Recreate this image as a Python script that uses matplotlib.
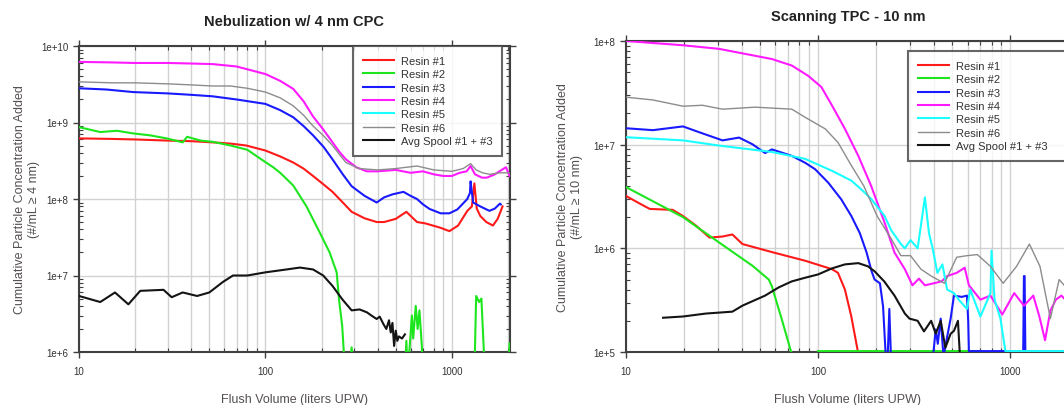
import numpy as np
import matplotlib
matplotlib.use("Agg")
import matplotlib.pyplot as plt
from matplotlib.ticker import LogLocator, NullFormatter, FixedLocator, FixedFormatter

plt.rcParams['font.family'] = ['Liberation Sans', 'DejaVu Sans']

nan = np.nan

# ---------------- left panel: Nebulization w/ 4 nm CPC ----------------
neb_r1_x = [10, 15, 20, 30, 40, 52, 65, 79, 100, 120, 141, 160, 180, 205, 229, 260, 290, 340, 395, 433, 500, 570, 610, 650, 720, 790, 870, 970, 1080, 1210, 1280, 1320, 1360, 1420, 1530, 1660, 1760, 1870]
neb_r1_y = [6.2e8, 6.1e8, 6.0e8, 5.8e8, 5.7e8, 5.5e8, 5.3e8, 5.0e8, 4.3e8, 3.6e8, 3.0e8, 2.5e8, 2.0e8, 1.55e8, 1.24e8, 9.0e7, 6.8e7, 5.6e7, 5.0e7, 5.0e7, 5.5e7, 6.8e7, 5.8e7, 5.0e7, 4.8e7, 4.5e7, 4.2e7, 3.8e7, 4.5e7, 7.0e7, 8.0e7, 1.6e8, 7.5e7, 6.0e7, 5.0e7, 4.5e7, 5.5e7, 8.0e7]

neb_r2_x = [10, 13, 16, 19.5, 24, 29.5, 36, 38, 45, 52, 65, 80, 95, 110, 120, 141, 166, 195, 221, 241, 248, 258, 268, 280, 290, 296, 560, 570, 580, 610, 620, 640, 655, 670, 690, 700, 1320, 1350, 1400, 1440, 1480, 1500, 2000, 2040]
neb_r2_y = [8.7e8, 7.5e8, 7.8e8, 7.2e8, 6.8e8, 6.2e8, 5.5e8, 6.5e8, 5.8e8, 5.6e8, 5.0e8, 4.4e8, 3.3e8, 2.6e8, 2.2e8, 1.5e8, 8.0e7, 3.7e7, 2.0e7, 1.1e7, 4.9e6, 2.2e6, 5e5, 5e5, 1.15e6, 5e5, 5e5, 1.4e6, 5e5, 3.0e6, 1.5e6, 4.0e6, 2.0e6, 3.5e6, 1.2e6, 5e5, 5e5, 5.4e6, 4.5e6, 5.0e6, 1.2e6, 5e5, 5e5, 1.3e6]

neb_r3_x = [10, 14, 19.5, 30, 40, 52, 70, 100, 120, 141, 160, 180, 205, 229, 260, 290, 340, 395, 433, 480, 550, 600, 650, 700, 760, 870, 970, 1070, 1210, 1250, 1260, 1300, 1420, 1590, 1700, 1810, 1830]
neb_r3_y = [2.8e9, 2.7e9, 2.5e9, 2.4e9, 2.3e9, 2.2e9, 2.0e9, 1.75e9, 1.45e9, 1.17e9, 9.0e8, 6.8e8, 4.8e8, 3.3e8, 2.1e8, 1.47e8, 1.1e8, 9.0e7, 1.05e8, 1.15e8, 1.24e8, 1.1e8, 1.0e8, 8.5e7, 7.4e7, 6.5e7, 6.5e7, 7.3e7, 1.0e8, 1.2e8, 1.7e8, 9.0e7, 8.0e7, 7.0e7, 7.5e7, 8.7e7, 8.5e7]

neb_r4_x = [10, 15, 20, 30, 40, 52, 70, 100, 120, 141, 160, 180, 205, 229, 250, 270, 307, 350, 400, 500, 600, 700, 800, 900, 1000, 1100, 1200, 1260, 1330, 1450, 1540, 1700, 1850, 1950, 2040]
neb_r4_y = [6.2e9, 6.1e9, 6.0e9, 6.0e9, 5.9e9, 5.8e9, 5.4e9, 4.3e9, 3.5e9, 2.75e9, 1.9e9, 1.2e9, 8.0e8, 5.5e8, 4.1e8, 3.3e8, 2.6e8, 2.3e8, 2.3e8, 2.4e8, 2.2e8, 2.3e8, 2.1e8, 2.0e8, 2.0e8, 2.2e8, 2.3e8, 2.7e8, 2.1e8, 1.9e8, 1.9e8, 2.1e8, 2.4e8, 2.6e8, 2.0e8]

neb_r6_x = [10, 15, 20, 30, 40, 52, 65, 80, 100, 120, 141, 160, 180, 205, 229, 250, 270, 318, 400, 500, 650, 800, 1000, 1150, 1260, 1350, 1460, 1600, 1800, 2040]
neb_r6_y = [3.4e9, 3.3e9, 3.3e9, 3.2e9, 3.1e9, 3.0e9, 3.0e9, 2.8e9, 2.5e9, 2.1e9, 1.65e9, 1.25e9, 9.0e8, 6.7e8, 5.0e8, 3.8e8, 3.0e8, 2.5e8, 2.4e8, 2.5e8, 2.7e8, 2.4e8, 2.3e8, 2.5e8, 2.9e8, 2.4e8, 2.2e8, 2.1e8, 2.2e8, 2.2e8]

neb_avg_x = [10, 13, 15.6, 18.4, 21.3, 28.4, 31.4, 36, 43, 50, 59, 67, 80, 100, 130, 153, 180, 204, 229, 258, 290, 320, 350, 370, 395, 410, 430, 445, 460, 470, 480, 490, 500, 510, 520, 540, 560]
neb_avg_y = [5.4e6, 4.5e6, 6.0e6, 4.2e6, 6.3e6, 6.5e6, 5.2e6, 6.0e6, 5.4e6, 6.0e6, 8.2e6, 1.0e7, 1.0e7, 1.1e7, 1.2e7, 1.27e7, 1.2e7, 1.0e7, 7.3e6, 4.9e6, 3.5e6, 3.6e6, 3.3e6, 3.0e6, 2.7e6, 2.9e6, 2.3e6, 2.0e6, 2.6e6, 1.8e6, 2.4e6, 1.2e6, 1.9e6, 1.4e6, 1.6e6, 1.5e6, 1.7e6]

# ---------------- right panel: Scanning TPC - 10 nm ----------------
# floor value (1.02e5) = readings that sit on the bottom axis
tpc_r1_x = [10, 11.8, 13.3, 17.5, 19.8, 23.2, 27.2, 31.8, 35.8, 40.4, 57.5, 85.5, 118, 127, 138, 149, 165]
tpc_r1_y = [3.2e6, 2.7e6, 2.4e6, 2.35e6, 2.05e6, 1.65e6, 1.27e6, 1.3e6, 1.36e6, 1.1e6, 9.2e5, 7.6e5, 6.3e5, 5.8e5, 4.0e5, 2.2e5, 8e4]

tpc_r2_x = [10, 19.8, 30.5, 45.5, 55.4, 57.5, 64.8, 75, 80, 100, 690]
tpc_r2_y = [3.9e6, 2.0e6, 1.14e6, 6.8e5, 5.0e5, 4.3e5, 2.05e5, 8e4, nan, 1.02e5, 1.02e5]

tpc_r3_x = [10, 13.8, 19.8, 24, 31.8, 38.8, 45.5, 53, 57.5, 73, 85.5, 96.5, 113, 132, 149, 165, 179, 190, 197, 210, 218, 226, 230, 235, 240, 250, 394, 410, 420, 435, 450, 470, 490, 510, 560, 596, 605, 610, 650, 1170, 1180, 1190, 1200, 1220, 2100]
tpc_r3_y = [1.44e7, 1.38e7, 1.5e7, 1.32e7, 1.1e7, 1.17e7, 1.01e7, 8.3e6, 9.0e6, 7.8e6, 6.7e6, 5.8e6, 4.3e6, 2.97e6, 2.05e6, 1.4e6, 9.1e5, 6.0e5, 5.0e5, 4.6e5, 2.75e5, 8e4, 8e4, 2.6e5, 8e4, 8e4, 8e4, 1.65e5, 1.2e5, 2.1e5, 9e4, 1.4e5, 2.1e5, 3.5e5, 3.4e5, 3.5e5, 2.0e5, 1.02e5, 1.02e5, 1.02e5, 5.4e5, 5.4e5, 1.02e5, 1.02e5, 1.02e5]

tpc_r4_x = [10, 19.8, 30.5, 57.5, 73, 89, 104, 118, 138, 162, 189, 222, 250, 283, 310, 335, 360, 400, 440, 470, 527, 580, 610, 700, 790, 910, 1050, 1180, 1320, 1420, 1520, 1620, 1730, 1850, 2000]
tpc_r4_y = [1.0e8, 9.1e7, 8.4e7, 6.7e7, 5.8e7, 4.6e7, 3.6e7, 2.4e7, 1.42e7, 7.8e6, 4.0e6, 1.77e6, 9.1e5, 6.3e5, 4.4e5, 5.1e5, 4.4e5, 4.6e5, 4.8e5, 5.4e5, 5.8e5, 6.5e5, 4.4e5, 3.2e5, 3.5e5, 2.3e5, 3.7e5, 2.8e5, 3.5e5, 2.2e5, 1.3e5, 2.5e5, 3.2e5, 3.5e5, 3.0e5]

tpc_r5_x = [10, 19.8, 30.5, 57.5, 85.5, 118, 149, 168, 189, 222, 240, 270, 283, 303, 330, 360, 378, 395, 418, 444, 470, 510, 540, 596, 620, 700, 790, 800, 830, 890, 945, 2100]
tpc_r5_y = [1.18e7, 1.1e7, 9.8e6, 8.5e6, 7.3e6, 5.6e6, 4.5e6, 3.7e6, 3.0e6, 2.05e6, 1.5e6, 1.1e6, 1.0e6, 1.2e6, 1.0e6, 3.1e6, 1.4e6, 1.0e6, 5.8e5, 7.0e5, 4.0e5, 3.7e5, 3.2e5, 2.6e5, 4.0e5, 2.2e5, 3.7e5, 9.5e5, 3.2e5, 2.1e5, 1.02e5, 1.02e5]

tpc_r6_x = [10, 13.8, 19.8, 25, 31.8, 47, 73, 85.5, 109, 127, 149, 173, 203, 240, 270, 303, 343, 388, 455, 527, 596, 675, 790, 920, 1080, 1260, 1430, 1620, 1800, 2000]
tpc_r6_y = [2.87e7, 2.7e7, 2.35e7, 2.4e7, 2.2e7, 2.3e7, 2.2e7, 1.84e7, 1.42e7, 1.05e7, 6.3e6, 4.0e6, 2.05e6, 1.24e6, 8.5e5, 8.5e5, 6.3e5, 5.4e5, 4.6e5, 8.2e5, 8.5e5, 8.7e5, 6.7e5, 4.6e5, 6.7e5, 1.1e6, 6.7e5, 2.1e5, 5.0e5, 4.0e5]

tpc_avg_x = [15.6, 19.8, 26.1, 35.8, 40.4, 53, 62.4, 73, 85.5, 100, 118, 138, 162, 182, 197, 221, 250, 283, 299, 330, 356, 388, 410, 435, 460, 490, 510, 535, 550]
tpc_avg_y = [2.14e5, 2.2e5, 2.35e5, 2.45e5, 2.8e5, 3.5e5, 4.2e5, 4.8e5, 5.2e5, 5.6e5, 6.4e5, 7.0e5, 7.2e5, 6.7e5, 6.0e5, 4.8e5, 3.5e5, 2.35e5, 2.1e5, 2.0e5, 1.58e5, 2.0e5, 1.5e5, 2.0e5, 1.1e5, 1.5e5, 1.6e5, 2.0e5, 8e4]

labels = ["Resin #1", "Resin #2", "Resin #3", "Resin #4", "Resin #5", "Resin #6", "Avg Spool #1 + #3"]
colors = ["#ff1a1a", "#1ee61e", "#1a1aff", "#ff1aff", "#1affff", "#8c8c8c", "#141414"]
widths = [1.5, 1.5, 1.5, 1.5, 1.5, 1.0, 1.5]

label_color = "#555050"
spine_color = "#404040"

fig = plt.figure(figsize=(10.64, 4.06), dpi=100)
ax1 = fig.add_axes([79 / 1064, 1 - 353 / 406, 431 / 1064, 306 / 406])
ax2 = fig.add_axes([626 / 1064, 1 - 353 / 406, 444 / 1064, 311 / 406])

left_series = [(neb_r1_x, neb_r1_y), (neb_r2_x, neb_r2_y), (neb_r3_x, neb_r3_y),
               (neb_r4_x, neb_r4_y), ([], []), (neb_r6_x, neb_r6_y), (neb_avg_x, neb_avg_y)]
right_series = [(tpc_r1_x, tpc_r1_y), (tpc_r2_x, tpc_r2_y), (tpc_r3_x, tpc_r3_y),
                (tpc_r4_x, tpc_r4_y), (tpc_r5_x, tpc_r5_y), (tpc_r6_x, tpc_r6_y), (tpc_avg_x, tpc_avg_y)]


def style_axis(ax, ymin, ymax, title, ylab, leg_bbox):
    ax.set_xscale("log")
    ax.set_yscale("log")
    ax.set_xlim(10, 2050)
    ax.set_ylim(ymin, ymax)
    ax.set_title(title, fontsize=10.5, fontweight="bold", color="#222222", pad=15)
    ax.set_xlabel("Flush Volume (liters UPW)", fontsize=9, color=label_color, labelpad=12)
    ax.set_ylabel(ylab, fontsize=9, color=label_color, labelpad=1, linespacing=1.25)

    ax.xaxis.set_major_locator(FixedLocator([10, 100, 1000]))
    ax.xaxis.set_major_formatter(FixedFormatter(["10", "100", "1000"]))
    ax.xaxis.set_minor_locator(LogLocator(base=10, subs=np.arange(2, 10)))
    ax.xaxis.set_minor_formatter(NullFormatter())
    decs = list(range(int(np.log10(ymin)), int(np.log10(ymax)) + 1))
    ax.yaxis.set_major_locator(FixedLocator([10.0 ** d for d in decs]))
    ax.yaxis.set_major_formatter(FixedFormatter(["1e+%d" % d for d in decs]))
    ax.yaxis.set_minor_locator(LogLocator(base=10, subs=np.arange(2, 10)))
    ax.yaxis.set_minor_formatter(NullFormatter())

    ax.grid(True, which="both", axis="x", color="#d2d2d2", lw=1.0)
    ax.grid(True, which="major", axis="y", color="#d2d2d2", lw=1.0)
    ax.set_axisbelow(True)
    ax.tick_params(which="major", direction="out", length=4, width=1, colors=spine_color,
                   labelsize=7, labelcolor="#333333", top=True, right=True)
    ax.tick_params(axis="x", which="major", pad=6)
    ax.tick_params(which="minor", direction="in", length=3, width=0.8, colors=spine_color,
                   top=True, right=True)
    for s in ax.spines.values():
        s.set_color(spine_color)
        s.set_linewidth(1.5)

    leg = ax.legend(loc="upper left", bbox_to_anchor=leg_bbox, mode="expand", fontsize=8,
                    frameon=True, fancybox=False, handlelength=2.8, labelspacing=0.3,
                    borderpad=0.9, handletextpad=0.6, borderaxespad=0)
    leg.get_frame().set_edgecolor(spine_color)
    leg.get_frame().set_linewidth(1.5)
    for t in leg.get_texts():
        t.set_color("#333333")


for ax, series in [(ax1, left_series), (ax2, right_series)]:
    for (xs, ys), lab, c, w in zip(series, labels, colors, widths):
        ax.plot(xs, ys, color=c, lw=w, label=lab, zorder=3)

style_axis(ax1, 1e6, 1e10, "Nebulization w/ 4 nm CPC",
           "Cumulative Particle Concentration Added\n(#/mL \u2265 4 nm)", (0.636, 0.0, 0.345, 1.0))
style_axis(ax2, 1e5, 1e8, "Scanning TPC - 10 nm",
           "Cumulative Particle Concentration Added\n(#/mL \u2265 10 nm)", (0.635, 0.0, 0.38, 0.968))
ax2.yaxis.set_label_coords(-0.097, 0.5)

fig.savefig("out.png", dpi=100)
